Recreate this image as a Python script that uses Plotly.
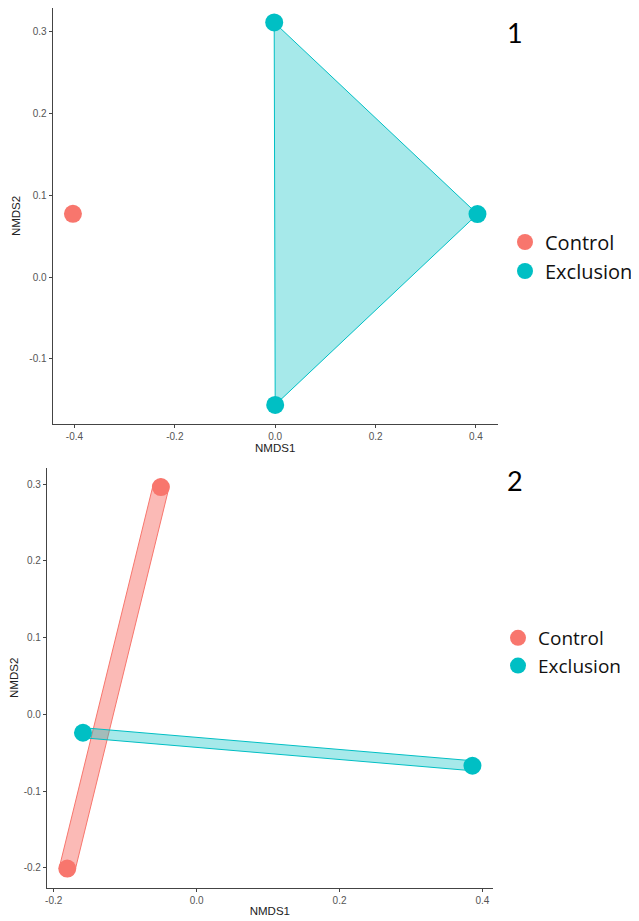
import numpy as np
import plotly.graph_objects as go

# the page body adds an 8px margin around the figure
OFF = 8
W, H = 639 - OFF, 921 - OFF

# ---------------- data ----------------
groups = ["Control", "Exclusion"]

# Panel 1 NMDS scores
p1_control_x = [-0.403]
p1_control_y = [0.0775]
p1_exclusion_x = [-0.002, 0.403, 0.000]
p1_exclusion_y = [0.3116, 0.0771, -0.1563]

# Panel 2 NMDS scores
p2_control_x = [-0.050, -0.181]
p2_control_y = [0.296, -0.201]
p2_exclusion_x = [-0.159, 0.386]
p2_exclusion_y = [-0.024, -0.067]

# tick labels
p1_xticks = [-0.4, -0.2, 0.0, 0.2, 0.4]
p1_yticks = [-0.1, 0.0, 0.1, 0.2, 0.3]
p2_xticks = [-0.2, 0.0, 0.2, 0.4]
p2_yticks = [-0.2, -0.1, 0.0, 0.1, 0.2, 0.3]

# ---------------- style ----------------
colors = {"Control": "#F8766D", "Exclusion": "#00BFC4"}
fills = {"Control": "rgba(248,118,109,0.5)", "Exclusion": "rgba(0,191,196,0.35)"}
band_halfwidth_px = {"Control": 8.0, "Exclusion": 5.0}

# plot-area boxes in screen pixels (left, right, top, bottom)
box1 = (52.7, 497.7, 3.3, 424.0)
box2 = (47.0, 492.7, 468.0, 887.7)


def fx(px):
    return (px - OFF) / W


def fy(py):
    return 1 - (py - OFF) / H


def expand(vals, f=0.05):
    lo, hi = min(vals), max(vals)
    d = (hi - lo) * f
    return [lo - d, hi + d]


def scales(box, xr, yr):
    sx = (box[1] - box[0]) / (xr[1] - xr[0])
    sy = (box[3] - box[2]) / (yr[1] - yr[0])
    return sx, sy


def fit_box(box, xr, yr):
    # keep pixel scale, clip the panel to the visible page area
    sx, sy = scales(box, xr, yr)
    l, r, t, b = box
    yr = list(yr)
    if t < OFF:
        yr[1] -= (OFF - t) / sy
        t = OFF
    return (l, r, t, b), xr, yr


p1_xr = expand(p1_control_x + p1_exclusion_x)
p1_yr = expand(p1_control_y + p1_exclusion_y)
p2_xr = expand(p2_control_x + p2_exclusion_x)
p2_yr = expand(p2_control_y + p2_exclusion_y)
box1, p1_xr, p1_yr = fit_box(box1, p1_xr, p1_yr)
box2, p2_xr, p2_yr = fit_box(box2, p2_xr, p2_yr)


def hull(xs, ys):
    pts = sorted(set(zip(xs, ys)))
    if len(pts) < 3:
        return pts

    def cross(o, a, b):
        return (a[0] - o[0]) * (b[1] - o[1]) - (a[1] - o[1]) * (b[0] - o[0])

    lower, upper = [], []
    for p in pts:
        while len(lower) >= 2 and cross(lower[-2], lower[-1], p) <= 0:
            lower.pop()
        lower.append(p)
    for p in reversed(pts):
        while len(upper) >= 2 and cross(upper[-2], upper[-1], p) <= 0:
            upper.pop()
        upper.append(p)
    return lower[:-1] + upper[:-1]


def capsule(xs, ys, hw, sx, sy):
    # band of constant pixel width around the segment joining two points
    ax, ay = xs[0] * sx, ys[0] * sy
    bx, by = xs[1] * sx, ys[1] * sy
    ang = np.arctan2(by - ay, bx - ax)
    t1 = np.linspace(ang + np.pi / 2, ang + 3 * np.pi / 2, 20)
    t2 = np.linspace(ang - np.pi / 2, ang + np.pi / 2, 20)
    px = np.concatenate([ax + hw * np.cos(t1), bx + hw * np.cos(t2)])
    py = np.concatenate([ay + hw * np.sin(t1), by + hw * np.sin(t2)])
    px = np.append(px, px[0])
    py = np.append(py, py[0])
    return list(px / sx), list(py / sy)


fig = go.Figure()

# ---------- panel 1 ----------
hx = hull(p1_exclusion_x, p1_exclusion_y)
fig.add_trace(go.Scatter(
    x=[p[0] for p in hx] + [hx[0][0]], y=[p[1] for p in hx] + [hx[0][1]],
    mode="lines", fill="toself", fillcolor=fills["Exclusion"],
    line=dict(color=colors["Exclusion"], width=1),
    showlegend=False, hoverinfo="skip", xaxis="x", yaxis="y"))

for g, xs, ys in [("Control", p1_control_x, p1_control_y),
                  ("Exclusion", p1_exclusion_x, p1_exclusion_y)]:
    fig.add_trace(go.Scatter(
        x=xs, y=ys, mode="markers", name=g, cliponaxis=False,
        marker=dict(size=18, color=colors[g], line=dict(width=0)),
        xaxis="x", yaxis="y", legend="legend"))

# ---------- panel 2 ----------
sx2, sy2 = scales(box2, p2_xr, p2_yr)
for g, xs, ys in [("Control", p2_control_x, p2_control_y),
                  ("Exclusion", p2_exclusion_x, p2_exclusion_y)]:
    cx, cy = capsule(xs, ys, band_halfwidth_px[g], sx2, sy2)
    fig.add_trace(go.Scatter(
        x=cx, y=cy, mode="lines", fill="toself", fillcolor=fills[g],
        line=dict(color=colors[g], width=1),
        showlegend=False, hoverinfo="skip", xaxis="x2", yaxis="y2"))

for g, xs, ys in [("Control", p2_control_x, p2_control_y),
                  ("Exclusion", p2_exclusion_x, p2_exclusion_y)]:
    fig.add_trace(go.Scatter(
        x=xs, y=ys, mode="markers", name=g,
        marker=dict(size=18, color=colors[g], line=dict(width=0)),
        xaxis="x2", yaxis="y2", legend="legend2"))


def fmt(v):
    return f"{v:.1f}"


axis_common = dict(
    showgrid=False, zeroline=False, showline=True, linecolor="#444444",
    linewidth=1.2, ticks="outside", ticklen=3, tickcolor="#444444",
    tickfont=dict(family="Liberation Sans, Arial, sans-serif", size=10, color="#555555"),
    automargin=False, fixedrange=True,
)
title_font = dict(family="Liberation Sans, Arial, sans-serif", size=11.5, color="#222222")
legend_font1 = dict(family="'Open Sans', Lato, sans-serif", size=20, color="#111111")
legend_font2 = dict(family="'Open Sans', Lato, sans-serif", size=19, color="#111111")
label_font = dict(family="Lato, 'Open Sans', sans-serif", size=27, color="#000000")

fig.update_layout(
    width=W, height=H,
    margin=dict(l=0, r=0, t=0, b=0),
    paper_bgcolor="white", plot_bgcolor="white",
    xaxis=dict(domain=[fx(box1[0]), fx(box1[1])], range=p1_xr, anchor="y",
               tickvals=p1_xticks, ticktext=[fmt(v) for v in p1_xticks],
               title=dict(text="NMDS1", font=title_font, standoff=2), **axis_common),
    yaxis=dict(domain=[fy(box1[3]), fy(box1[2])], range=p1_yr, anchor="x",
               tickvals=p1_yticks, ticktext=[fmt(v) for v in p1_yticks],
               title=dict(text="NMDS2", font=title_font, standoff=6), **axis_common),
    xaxis2=dict(domain=[fx(box2[0]), fx(box2[1])], range=p2_xr, anchor="y2",
                tickvals=p2_xticks, ticktext=[fmt(v) for v in p2_xticks],
                title=dict(text="NMDS1", font=title_font, standoff=2), **axis_common),
    yaxis2=dict(domain=[fy(box2[3]), fy(box2[2])], range=p2_yr, anchor="x2",
                tickvals=p2_yticks, ticktext=[fmt(v) for v in p2_yticks],
                title=dict(text="NMDS2", font=title_font, standoff=6), **axis_common),
    legend=dict(x=fx(505), y=fy(256.5), xanchor="left", yanchor="middle",
                bgcolor="rgba(0,0,0,0)", borderwidth=0, itemsizing="trace",
                tracegroupgap=0, font=legend_font1),
    legend2=dict(x=fx(498), y=fy(652), xanchor="left", yanchor="middle",
                 bgcolor="rgba(0,0,0,0)", borderwidth=0, itemsizing="trace",
                 tracegroupgap=0, font=legend_font2),
    annotations=[
        dict(text="1", x=fx(515), y=fy(33), xref="paper", yref="paper",
             showarrow=False, xanchor="center", yanchor="middle", font=label_font),
        dict(text="2", x=fx(515), y=fy(480), xref="paper", yref="paper",
             showarrow=False, xanchor="center", yanchor="middle", font=label_font),
    ],
)

fig.write_html("out.html")
